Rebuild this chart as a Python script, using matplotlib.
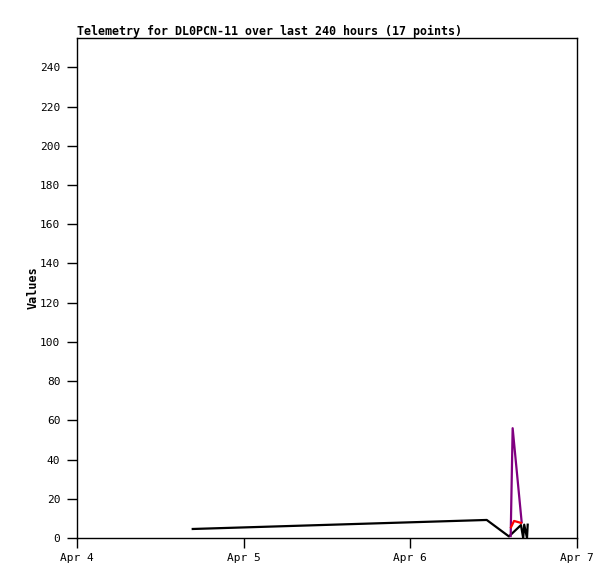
import matplotlib
matplotlib.use("Agg")
import matplotlib.pyplot as plt
import matplotlib.dates as mdates
import pandas as pd

# === DATA ===
black_times = ["2024-04-04 16:40", "2024-04-06 11:00", "2024-04-06 14:12",
               "2024-04-06 15:56", "2024-04-06 16:15", "2024-04-06 16:24",
               "2024-04-06 16:48", "2024-04-06 16:54"]
black_vals = [4.6, 9.2, 0.8, 6.6, 0.0, 6.8, 0.0, 6.8]

purple_times = ["2024-04-06 14:27", "2024-04-06 14:44", "2024-04-06 16:02"]
purple_vals = [1.0, 56.0, 8.0]

red_times = ["2024-04-06 14:30", "2024-04-06 14:56", "2024-04-06 15:56"]
red_vals = [5.5, 8.7, 7.7]

title = "Telemetry for DL0PCN-11 over last 240 hours (17 points)"
mono = "DejaVu Sans Mono"

# === Plot ===
fig = plt.figure(figsize=(6.15, 5.79), dpi=100)
ax = fig.add_axes([77 / 615, 41 / 579, 500 / 615, 500 / 579])

ax.plot(pd.to_datetime(black_times), black_vals, color="black", lw=1.6)
ax.plot(pd.to_datetime(purple_times), purple_vals, color="#800080", lw=1.6)
ax.plot(pd.to_datetime(red_times), red_vals, color="red", lw=1.6)

ax.set_xlim(pd.Timestamp("2024-04-04"), pd.Timestamp("2024-04-07"))
ax.set_ylim(0, 255)
ax.set_yticks(range(0, 241, 20))
ax.xaxis.set_major_locator(mdates.DayLocator())
ax.xaxis.set_major_formatter(mdates.DateFormatter("%b %-d"))

ax.tick_params(direction="out", length=7, width=1, labelsize=8, pad=5)
ax.tick_params(axis="x", pad=4)
for lab in ax.get_xticklabels() + ax.get_yticklabels():
    lab.set_family(mono)
for sp in ax.spines.values():
    sp.set_linewidth(1)

ax.set_ylabel("Values", family=mono, fontsize=8.5, fontweight="bold", labelpad=0)
fig.text(77 / 615, 1 - 31 / 579, title, family=mono, fontsize=8.35,
         fontweight="bold", va="center", ha="left")

fig.savefig("out.png", dpi=100)
